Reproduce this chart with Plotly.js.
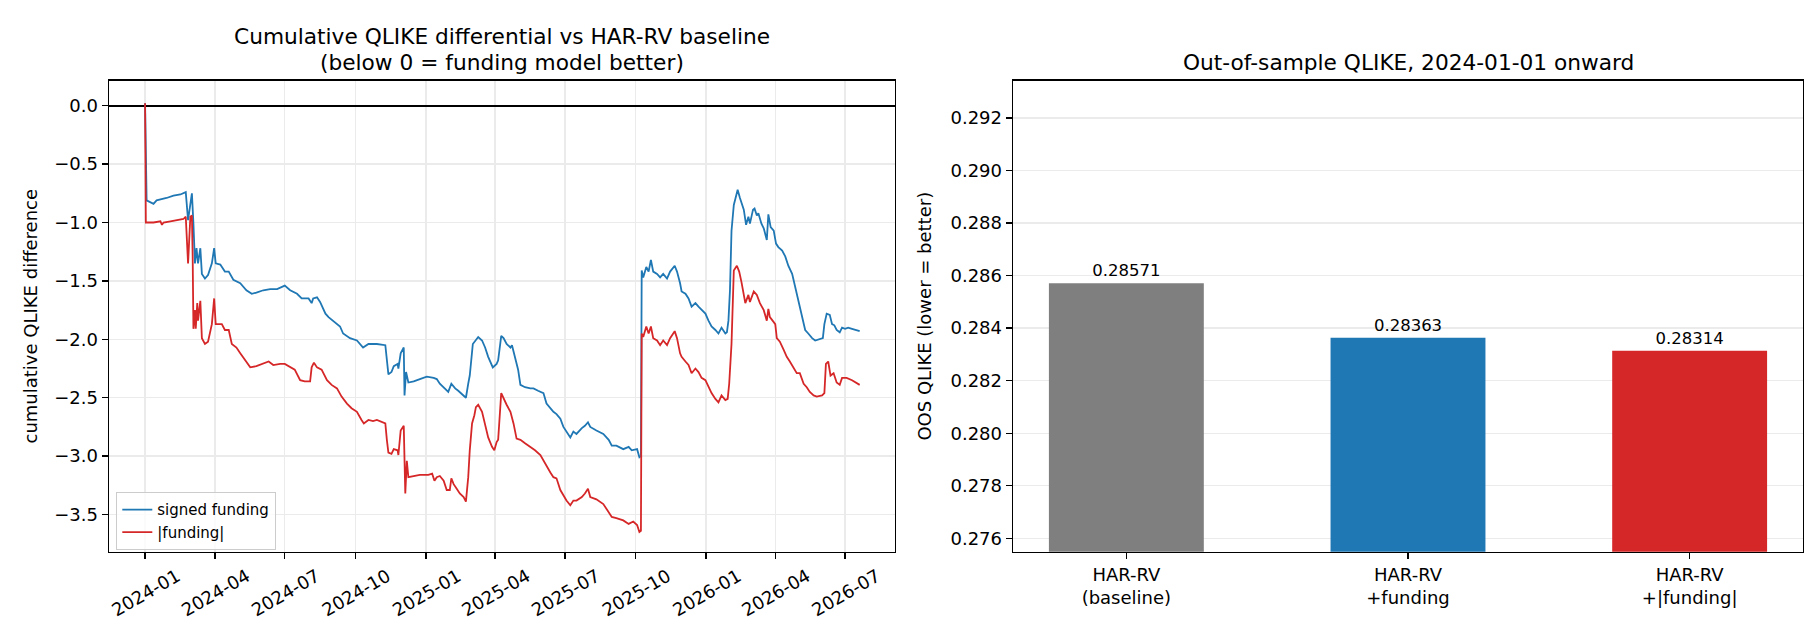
<!DOCTYPE html>
<html>
<head>
<meta charset="utf-8">
<script src="https://cdn.plot.ly/plotly-3.0.1.min.js"></script>
<style>
  html, body { margin: 0; padding: 0; background: #ffffff; }
  #chart { width: 1820px; height: 644px; }
</style>
</head>
<body>
<div id="chart"></div>
<script>
// Cumulative QLIKE differential (model minus HAR-RV), signed-funding model
const datesSigned = [
  '2024-01-01','2024-01-03','2024-01-12','2024-01-16','2024-01-29','2024-02-07','2024-02-16','2024-02-23',
  '2024-02-26','2024-02-29','2024-03-02','2024-03-04','2024-03-06','2024-03-08','2024-03-10','2024-03-13',
  '2024-03-15','2024-03-19','2024-03-23','2024-03-28','2024-03-31','2024-04-02','2024-04-08','2024-04-14',
  '2024-04-19','2024-04-25','2024-05-04','2024-05-12','2024-05-19','2024-05-25','2024-06-03','2024-06-12',
  '2024-06-21','2024-07-01','2024-07-08','2024-07-17','2024-07-23','2024-08-01','2024-08-05','2024-08-07',
  '2024-08-12','2024-08-16','2024-08-23','2024-08-27','2024-09-02','2024-09-11','2024-09-15','2024-09-24',
  '2024-10-03','2024-10-11','2024-10-18','2024-10-29','2024-11-09','2024-11-11','2024-11-13','2024-11-17',
  '2024-11-20','2024-11-25','2024-11-26','2024-11-29','2024-12-03','2024-12-04','2024-12-06','2024-12-09',
  '2024-12-16','2024-12-24','2025-01-02','2025-01-11','2025-01-15','2025-01-19','2025-01-26','2025-01-30',
  '2025-02-03','2025-02-08','2025-02-12','2025-02-19','2025-02-22','2025-02-25','2025-02-27','2025-03-03',
  '2025-03-06','2025-03-10','2025-03-15','2025-03-19','2025-03-23','2025-03-29','2025-04-03','2025-04-05',
  '2025-04-09','2025-04-12','2025-04-16','2025-04-21','2025-04-23','2025-04-27','2025-05-01','2025-05-04',
  '2025-05-10','2025-05-17','2025-05-21','2025-05-27','2025-06-03','2025-06-07','2025-06-12','2025-06-16',
  '2025-06-20','2025-06-25','2025-06-29','2025-07-03','2025-07-08','2025-07-12','2025-07-16','2025-07-23',
  '2025-07-27','2025-07-31','2025-08-03','2025-08-11','2025-08-20','2025-08-27','2025-08-31','2025-09-06',
  '2025-09-15','2025-09-22','2025-09-26','2025-10-03','2025-10-06','2025-10-08','2025-10-09','2025-10-11',
  '2025-10-15','2025-10-18','2025-10-21','2025-10-24','2025-10-29','2025-11-02','2025-11-06','2025-11-11',
  '2025-11-15','2025-11-21','2025-11-24','2025-11-28','2025-11-30','2025-12-05','2025-12-09','2025-12-13',
  '2025-12-18','2025-12-22','2025-12-26','2025-12-31','2026-01-04','2026-01-08','2026-01-13','2026-01-17',
  '2026-01-21','2026-01-26','2026-01-28','2026-01-30','2026-02-01','2026-02-03','2026-02-06','2026-02-09',
  '2026-02-11','2026-02-14','2026-02-19','2026-02-22','2026-02-25','2026-02-27','2026-03-03','2026-03-05',
  '2026-03-08','2026-03-10','2026-03-14','2026-03-17','2026-03-21','2026-03-23','2026-03-26','2026-03-30',
  '2026-04-02','2026-04-05','2026-04-10','2026-04-14','2026-04-18','2026-04-23','2026-04-27','2026-05-01',
  '2026-05-04','2026-05-08','2026-05-10','2026-05-14','2026-05-19','2026-05-23','2026-05-27','2026-06-02',
  '2026-06-04','2026-06-07','2026-06-11','2026-06-14','2026-06-17','2026-06-20','2026-06-24','2026-06-27',
  '2026-07-01','2026-07-05','2026-07-10','2026-07-14','2026-07-20'
];
const signedFunding = [
  0.02, -0.81, -0.84, -0.81, -0.79, -0.77, -0.76, -0.74,
  -0.98, -0.81, -0.75, -1.01, -1.35, -1.22, -1.35, -1.22,
  -1.44, -1.48, -1.45, -1.35, -1.22, -1.35, -1.36, -1.42,
  -1.42, -1.49, -1.52, -1.58, -1.61, -1.60, -1.58, -1.57,
  -1.57, -1.54, -1.58, -1.61, -1.65, -1.65, -1.69, -1.65,
  -1.64, -1.68, -1.78, -1.81, -1.84, -1.89, -1.95, -1.99,
  -2.01, -2.07, -2.04, -2.04, -2.05, -2.15, -2.30, -2.28,
  -2.23, -2.21, -2.25, -2.12, -2.07, -2.48, -2.28, -2.37,
  -2.36, -2.34, -2.32, -2.33, -2.34, -2.38, -2.43, -2.45,
  -2.38, -2.42, -2.44, -2.48, -2.50, -2.38, -2.31, -2.04,
  -2.01, -1.98, -2.01, -2.07, -2.15, -2.24, -2.21, -2.18,
  -1.97, -1.99, -2.04, -2.07, -2.05, -2.16, -2.26, -2.39,
  -2.41, -2.42, -2.42, -2.44, -2.46, -2.55, -2.59, -2.62,
  -2.64, -2.68, -2.75, -2.79, -2.84, -2.79, -2.81, -2.76,
  -2.74, -2.71, -2.75, -2.78, -2.81, -2.86, -2.91, -2.91,
  -2.94, -2.92, -2.95, -2.94, -3.01, -3.00, -1.41, -1.47,
  -1.38, -1.42, -1.32, -1.42, -1.44, -1.47, -1.44, -1.48,
  -1.42, -1.37, -1.42, -1.52, -1.59, -1.61, -1.65, -1.72,
  -1.69, -1.72, -1.75, -1.78, -1.84, -1.89, -1.92, -1.95,
  -1.90, -1.95, -1.94, -1.84, -1.58, -1.07, -0.85, -0.78,
  -0.72, -0.79, -0.89, -1.02, -0.95, -1.01, -0.89, -0.88,
  -0.94, -0.92, -1.01, -1.05, -1.15, -0.93, -1.04, -1.07,
  -1.18, -1.21, -1.24, -1.29, -1.37, -1.44, -1.55, -1.67,
  -1.75, -1.87, -1.92, -1.95, -1.99, -2.01, -2.00, -1.99,
  -1.87, -1.78, -1.79, -1.87, -1.88, -1.92, -1.94, -1.90,
  -1.91, -1.90, -1.91, -1.92, -1.93
];

// Cumulative QLIKE differential, |funding| model
const datesAbs = [
  '2024-01-01','2024-01-02','2024-01-12','2024-01-21','2024-01-23','2024-01-25','2024-02-03','2024-02-11',
  '2024-02-20','2024-02-23','2024-02-26','2024-02-29','2024-03-02','2024-03-03','2024-03-04','2024-03-06',
  '2024-03-07','2024-03-09','2024-03-10','2024-03-13','2024-03-15','2024-03-19','2024-03-23','2024-03-28',
  '2024-03-31','2024-04-02','2024-04-10','2024-04-14','2024-04-19','2024-04-23','2024-04-29','2024-05-04',
  '2024-05-10','2024-05-17','2024-05-25','2024-06-03','2024-06-10','2024-06-16','2024-06-25','2024-07-01',
  '2024-07-08','2024-07-14','2024-07-21','2024-07-27','2024-08-03','2024-08-05','2024-08-08','2024-08-12',
  '2024-08-18','2024-08-25','2024-08-31','2024-09-07','2024-09-13','2024-09-20','2024-09-26','2024-10-03',
  '2024-10-09','2024-10-12','2024-10-18','2024-10-24','2024-10-29','2024-11-09','2024-11-11','2024-11-13',
  '2024-11-17','2024-11-20','2024-11-25','2024-11-26','2024-11-29','2024-12-03','2024-12-05','2024-12-07',
  '2024-12-09','2024-12-16','2024-12-24','2025-01-04','2025-01-09','2025-01-12','2025-01-15','2025-01-19',
  '2025-01-24','2025-01-28','2025-02-01','2025-02-03','2025-02-06','2025-02-10','2025-02-14','2025-02-19',
  '2025-02-22','2025-02-25','2025-02-27','2025-03-02','2025-03-05','2025-03-07','2025-03-10','2025-03-15',
  '2025-03-19','2025-03-23','2025-03-28','2025-03-31','2025-04-03','2025-04-05','2025-04-09','2025-04-12',
  '2025-04-16','2025-04-21','2025-04-25','2025-04-29','2025-05-04','2025-05-10','2025-05-17','2025-05-23',
  '2025-05-30','2025-06-03','2025-06-07','2025-06-12','2025-06-16','2025-06-20','2025-06-25','2025-06-29',
  '2025-07-03','2025-07-08','2025-07-12','2025-07-16','2025-07-23','2025-07-27','2025-07-31','2025-08-03',
  '2025-08-11','2025-08-20','2025-08-27','2025-08-31','2025-09-06','2025-09-15','2025-09-22','2025-09-28',
  '2025-10-03','2025-10-06','2025-10-08','2025-10-09','2025-10-11','2025-10-15','2025-10-18','2025-10-21',
  '2025-10-24','2025-10-29','2025-11-02','2025-11-06','2025-11-11','2025-11-15','2025-11-21','2025-11-24',
  '2025-11-28','2025-11-30','2025-12-05','2025-12-09','2025-12-13','2025-12-18','2025-12-22','2025-12-26',
  '2025-12-31','2026-01-04','2026-01-08','2026-01-13','2026-01-17','2026-01-21','2026-01-26','2026-01-29',
  '2026-01-31','2026-02-03','2026-02-05','2026-02-06','2026-02-10','2026-02-13','2026-02-16','2026-02-21',
  '2026-02-25','2026-02-27','2026-03-04','2026-03-08','2026-03-12','2026-03-17','2026-03-21','2026-03-23',
  '2026-03-25','2026-03-29','2026-04-01','2026-04-03','2026-04-07','2026-04-12','2026-04-16','2026-04-20',
  '2026-04-25','2026-04-29','2026-05-03','2026-05-08','2026-05-12','2026-05-16','2026-05-21','2026-05-25',
  '2026-06-01','2026-06-04','2026-06-06','2026-06-09','2026-06-12','2026-06-16','2026-06-20','2026-06-24',
  '2026-06-27','2026-07-03','2026-07-10','2026-07-15','2026-07-20'
];
const absFunding = [
  0.02, -1.00, -1.00, -0.99, -1.02, -1.00, -0.99, -0.98,
  -0.97, -0.95, -1.35, -0.95, -0.94, -1.29, -1.91, -1.75,
  -1.91, -1.69, -1.84, -1.67, -1.99, -2.04, -2.02, -1.87,
  -1.65, -1.87, -1.87, -1.92, -1.92, -2.04, -2.07, -2.12,
  -2.18, -2.24, -2.23, -2.21, -2.19, -2.22, -2.21, -2.21,
  -2.24, -2.26, -2.35, -2.36, -2.36, -2.24, -2.20, -2.24,
  -2.26, -2.35, -2.39, -2.42, -2.49, -2.55, -2.59, -2.62,
  -2.69, -2.72, -2.69, -2.70, -2.69, -2.72, -2.86, -2.97,
  -2.98, -2.94, -2.95, -2.99, -2.78, -2.74, -3.32, -3.04,
  -3.18, -3.17, -3.16, -3.16, -3.15, -3.21, -3.18, -3.17,
  -3.21, -3.29, -3.29, -3.19, -3.24, -3.28, -3.32, -3.35,
  -3.39, -3.18, -2.95, -2.72, -2.65, -2.58, -2.56, -2.62,
  -2.72, -2.84, -2.92, -2.95, -2.88, -2.86, -2.46, -2.51,
  -2.56, -2.62, -2.72, -2.85, -2.86, -2.89, -2.92, -2.95,
  -2.99, -3.04, -3.08, -3.14, -3.18, -3.19, -3.29, -3.34,
  -3.38, -3.42, -3.38, -3.38, -3.35, -3.32, -3.28, -3.35,
  -3.37, -3.41, -3.48, -3.52, -3.53, -3.55, -3.58, -3.56,
  -3.59, -3.65, -3.64, -1.95, -1.98, -1.89, -1.95, -1.89,
  -1.99, -2.01, -2.05, -2.01, -2.05, -1.99, -1.93, -1.99,
  -2.12, -2.15, -2.19, -2.22, -2.29, -2.25, -2.28, -2.33,
  -2.35, -2.41, -2.46, -2.51, -2.54, -2.48, -2.52, -2.51,
  -2.38, -2.04, -1.58, -1.41, -1.37, -1.42, -1.51, -1.69,
  -1.62, -1.68, -1.59, -1.62, -1.69, -1.75, -1.84, -1.74,
  -1.81, -1.85, -1.87, -1.99, -2.02, -2.09, -2.15, -2.19,
  -2.24, -2.29, -2.29, -2.38, -2.41, -2.45, -2.48, -2.49,
  -2.48, -2.46, -2.21, -2.19, -2.31, -2.29, -2.37, -2.39,
  -2.33, -2.33, -2.35, -2.37, -2.39
];

// Out-of-sample QLIKE per model, 2024-01-01 onward
const modelLabels = ['HAR-RV<br>(baseline)', 'HAR-RV<br>+funding', 'HAR-RV<br>+|funding|'];
const oosQlike = [0.28571, 0.28363, 0.28314];
const barColors = ['#7f7f7f', '#1f77b4', '#d62728'];

const FONT = 'DejaVu Sans, Liberation Sans, sans-serif';
const W = 1820, H = 644;
// plot boxes in pixels -> paper fractions
const L1 = 109 / W, R1 = 895 / W, L2 = 1013 / W, R2 = 1803 / W;
const YB = (H - 551.7) / H, YT = (H - 80.7) / H;

const spine = {
  showline: true, mirror: true, linecolor: '#000', linewidth: 1.4,
  ticks: 'outside', ticklen: 6, tickwidth: 1.4, tickcolor: '#000',
  tickfont: { family: FONT, size: 18, color: '#000' }
};

const traces = [
  {
    type: 'scatter', mode: 'lines', name: 'signed funding',
    x: datesSigned, y: signedFunding,
    line: { color: '#1f77b4', width: 1.8 },
    xaxis: 'x', yaxis: 'y'
  },
  {
    type: 'scatter', mode: 'lines', name: '|funding|',
    x: datesAbs, y: absFunding,
    line: { color: '#d62728', width: 1.8 },
    xaxis: 'x', yaxis: 'y'
  },
  {
    type: 'bar', x: modelLabels, y: oosQlike, width: 0.55,
    marker: { color: barColors, line: { width: 0 } },
    texttemplate: '%{y:.5f}', textposition: 'outside', cliponaxis: false,
    constraintext: 'none',
    textfont: { family: FONT, size: 16.5, color: '#000' },
    showlegend: false, xaxis: 'x2', yaxis: 'y2'
  }
];

const layout = {
  width: W, height: H,
  margin: { l: 0, r: 0, t: 0, b: 0 },
  paper_bgcolor: '#ffffff', plot_bgcolor: '#ffffff',
  font: { family: FONT, size: 18, color: '#000' },
  showlegend: true,
  legend: {
    x: 116 / W, y: (H - 492) / H, xanchor: 'left', yanchor: 'top',
    bgcolor: 'rgba(255,255,255,0.8)', bordercolor: '#cccccc', borderwidth: 1.3,
    font: { family: FONT, size: 15, color: '#000' }
  },
  xaxis: Object.assign({}, spine, {
    domain: [L1, R1], anchor: 'y', type: 'date',
    range: ['2023-11-15', '2026-09-04'],
    tick0: '2024-01-01', dtick: 'M3', tickformat: '%Y-%m', tickangle: -30,
    ticklabelshift: 32,
    showgrid: true, gridcolor: '#ebebeb', gridwidth: 1.4, zeroline: false
  }),
  yaxis: Object.assign({}, spine, {
    domain: [YB, YT], anchor: 'x',
    range: [-3.818, 0.214], tick0: 0, dtick: 0.5, tickformat: '.1f',
    showgrid: true, gridcolor: '#ebebeb', gridwidth: 1.4,
    zeroline: true, zerolinecolor: '#000', zerolinewidth: 1.8,
    title: { text: 'cumulative QLIKE difference', font: { family: FONT, size: 18 }, standoff: 12 }
  }),
  xaxis2: Object.assign({}, spine, {
    domain: [L2, R2], anchor: 'y2', type: 'category',
    range: [-0.4025, 2.4025], showgrid: false, zeroline: false
  }),
  yaxis2: Object.assign({}, spine, {
    domain: [YB, YT], anchor: 'x2',
    range: [0.27549, 0.29342], tick0: 0.276, dtick: 0.002, tickformat: '.3f',
    showgrid: true, gridcolor: '#ebebeb', gridwidth: 1.4, zeroline: false,
    title: { text: 'OOS QLIKE (lower = better)', font: { family: FONT, size: 18 }, standoff: 14 }
  }),
  annotations: [
    {
      text: 'Cumulative QLIKE differential vs HAR-RV baseline',
      xref: 'paper', yref: 'paper', x: (L1 + R1) / 2, y: (H - 37) / H,
      xanchor: 'center', yanchor: 'middle', showarrow: false,
      font: { family: FONT, size: 21.7, color: '#000' }
    },
    {
      text: '(below 0 = funding model better)',
      xref: 'paper', yref: 'paper', x: (L1 + R1) / 2, y: (H - 62) / H,
      xanchor: 'center', yanchor: 'middle', showarrow: false,
      font: { family: FONT, size: 21.7, color: '#000' }
    },
    {
      text: 'Out-of-sample QLIKE, 2024-01-01 onward',
      xref: 'paper', yref: 'paper', x: (L2 + R2) / 2, y: (H - 62) / H,
      xanchor: 'center', yanchor: 'middle', showarrow: false,
      font: { family: FONT, size: 21.7, color: '#000' }
    }
  ]
};

Plotly.newPlot('chart', traces, layout, { displayModeBar: false, staticPlot: true });
</script>
</body>
</html>
